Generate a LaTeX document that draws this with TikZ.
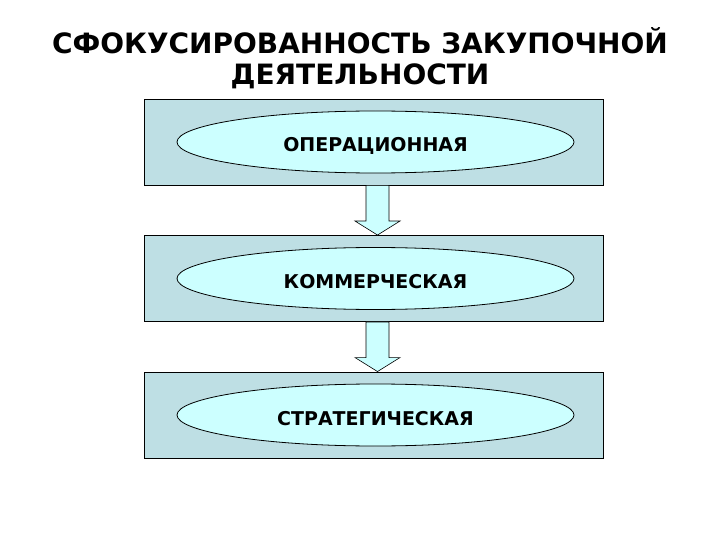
\documentclass[tikz,border=0pt]{standalone}
\usepackage{fontspec}
\setmainfont{DejaVu Sans}
\usetikzlibrary{positioning,calc,shapes.geometric}

\definecolor{boxfill}{RGB}{190,223,228}
\definecolor{ovalfill}{RGB}{204,255,255}

\begin{document}
\begin{tikzpicture}[x=1pt, y=-1pt,
    levelbox/.style={draw=black, fill=boxfill, line width=0.9pt,
        minimum width=459pt, minimum height=86pt, inner sep=0pt},
    leveloval/.style={ellipse, draw=black, fill=ovalfill, line width=0.8pt,
        minimum width=397pt, minimum height=62pt, inner sep=0pt,
        text height=20pt, text depth=0pt,
        font=\fontsize{19}{22}\selectfont\bfseries},
    blockarrow/.style={draw=black, fill=ovalfill, line width=0.6pt}]
% Page frame
\useasboundingbox (0,0) rectangle (720,540);

% Title
\node[align=center, font=\fontsize{28}{31}\selectfont\bfseries] (title) at (360,58)
    {СФОКУСИРОВАННОСТЬ ЗАКУПОЧНОЙ\\ДЕЯТЕЛЬНОСТИ};

% Three levels, each a box with an oval
\node[levelbox] (box1) at (373.5,142) {};
\node[levelbox] (box2) at (373.5,278.5) {};
\node[levelbox] (box3) at (373.5,415) {};
\node[leveloval, xshift=2pt] (oval1) at (box1) {ОПЕРАЦИОННАЯ};
\node[leveloval, xshift=2pt] (oval2) at (box2) {КОММЕРЧЕСКАЯ};
\node[leveloval, xshift=2pt] (oval3) at (box3) {СТРАТЕГИЧЕСКАЯ};

% Block arrows between the boxes
\foreach \a/\b in {box1/box2, box2/box3} {
    \draw[blockarrow] ($(\a.south)+(-7.5,0)$) -- ($(\a.south)+(15.5,0)$)
        -- ($(\b.north)+(15.5,-14)$) -- ($(\b.north)+(26.5,-14)$)
        -- ($(\b.north)+(4,0)$) -- ($(\b.north)+(-18.5,-14)$)
        -- ($(\b.north)+(-7.5,-14)$) -- cycle;
}
\end{tikzpicture}
\end{document}
